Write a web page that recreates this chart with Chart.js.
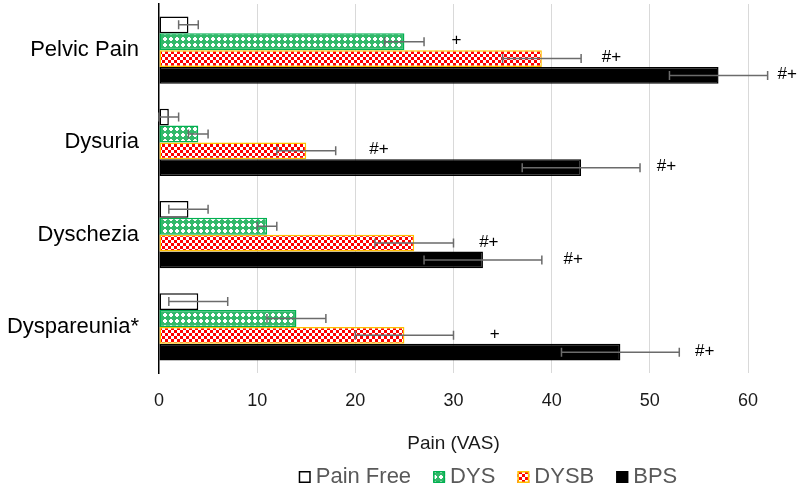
<!DOCTYPE html>
<html>
<head>
<meta charset="utf-8">
<script src="https://cdn.jsdelivr.net/npm/chart.js@4/dist/chart.umd.min.js"></script>
<style>
  html, body { margin: 0; padding: 0; background: #ffffff; }
  #wrap { width: 800px; height: 487px; }
</style>
</head>
<body>
<div id="wrap"><canvas id="c" width="800" height="487"></canvas></div>
<script>
// ---- data ----
const categories = ['Pelvic Pain', 'Dysuria', 'Dyschezia', 'Dyspareunia*'];
const seriesNames = ['Pain Free', 'DYS', 'DYSB', 'BPS'];

const painFree    = [3, 1, 3, 4];
const painFreeErr = [1, 1, 2, 3];
const dys         = [25, 4, 11, 14];
const dysErr      = [2, 1, 1, 3];
const dysb        = [39, 15, 26, 25];
const dysbErr     = [4, 3, 4, 5];
const bps         = [57, 43, 33, 47];
const bpsErr      = [5, 6, 6, 6];

const xTickValues = [0, 10, 20, 30, 40, 50, 60];
const axisTitle = 'Pain (VAS)';

// significance marks and where they sit (value-axis units)
const painFreeMarks = ['', '', '', ''];
const painFreeMarkX = [null, null, null, null];
const dysMarks  = ['+', '', '', ''];
const dysMarkX  = [30.3, null, null, null];
const dysbMarks = ['#+', '#+', '#+', '+'];
const dysbMarkX = [46.1, 22.4, 33.6, 34.2];
const bpsMarks  = ['#+', '#+', '#+', '#+'];
const bpsMarkX  = [64, 51.7, 42.2, 55.6];

// ---- patterns ----
function makeTile(size, draw) {
  const c = document.createElement('canvas');
  c.width = size; c.height = size;
  const g = c.getContext('2d');
  draw(g);
  return document.getElementById('c').getContext('2d').createPattern(c, 'repeat');
}
const greenPattern = makeTile(6, g => {
  g.fillStyle = '#33b96a';
  g.fillRect(0, 0, 6, 6);
  g.fillStyle = '#ffffff';
  // white diamond dot on a green lattice
  g.fillRect(2, 1, 2, 4);
  g.fillRect(1, 2, 4, 2);
});
const redPattern = makeTile(6, g => {
  g.fillStyle = '#ffffff';
  g.fillRect(0, 0, 6, 6);
  g.fillStyle = '#ff0000';
  g.fillRect(0, 0, 3, 3);
  g.fillRect(3, 3, 3, 3);
});

const errs  = [painFreeErr, dysErr, dysbErr, bpsErr];
const marks = [painFreeMarks, dysMarks, dysbMarks, bpsMarks];
const markX = [painFreeMarkX, dysMarkX, dysbMarkX, bpsMarkX];

const errorBarPlugin = {
  id: 'errorBars',
  afterDatasetsDraw(chart) {
    const ctx = chart.ctx;
    const xs = chart.scales.x;
    ctx.save();
    chart.data.datasets.forEach((ds, di) => {
      const meta = chart.getDatasetMeta(di);
      meta.data.forEach((bar, i) => {
        const v = ds.data[i];
        const e = errs[di][i];
        const y = bar.y;
        const x1 = xs.getPixelForValue(v - e);
        const x2 = xs.getPixelForValue(v + e);
        ctx.strokeStyle = '#6b6b6b';
        ctx.lineWidth = 1.5;
        ctx.beginPath();
        ctx.moveTo(x1, y); ctx.lineTo(x2, y);
        ctx.moveTo(x1, y - 4.5); ctx.lineTo(x1, y + 4.5);
        ctx.moveTo(x2, y - 4.5); ctx.lineTo(x2, y + 4.5);
        ctx.stroke();
        const m = marks[di][i];
        if (m) {
          ctx.fillStyle = '#000000';
          ctx.font = '17px "Liberation Sans", Arial, sans-serif';
          ctx.textAlign = 'center';
          ctx.textBaseline = 'middle';
          ctx.fillText(m, xs.getPixelForValue(markX[di][i]), y - 1);
        }
      });
    });
    ctx.restore();
  }
};

const legendPlugin = {
  id: 'bottomLegend',
  afterDraw(chart) {
    const ctx = chart.ctx;
    ctx.save();
    ctx.font = '22px "Liberation Sans", Arial, sans-serif';
    const box = 12, gap = 5, spacing = 22;
    const items = chart.data.datasets.map(ds => ({
      text: ds.label, fill: ds.backgroundColor, stroke: ds.borderColor,
      w: box + gap + ctx.measureText(ds.label).width
    }));
    const total = items.reduce((s, it) => s + it.w, 0) + spacing * (items.length - 1);
    let x = 488 - total / 2;
    const yc = 477;
    items.forEach(it => {
      ctx.fillStyle = it.fill;
      ctx.fillRect(x, yc - box / 2, box, box);
      ctx.strokeStyle = it.stroke;
      ctx.lineWidth = 1.5;
      ctx.strokeRect(x + 0.75, yc - box / 2 + 0.75, box - 1.5, box - 1.5);
      ctx.fillStyle = '#595959';
      ctx.textAlign = 'left';
      ctx.textBaseline = 'middle';
      ctx.fillText(it.text, x + box + gap, yc);
      x += it.w + spacing;
    });
    ctx.restore();
  }
};

const values = [painFree, dys, dysb, bps];
const fills = ['#ffffff', greenPattern, redPattern, '#000000'];
const borders = ['#000000', '#00b050', '#ffc000', '#000000'];

new Chart(document.getElementById('c'), {
  type: 'bar',
  data: {
    labels: categories,
    datasets: seriesNames.map((name, k) => ({
      label: name,
      data: values[k],
      backgroundColor: fills[k],
      borderColor: borders[k],
      borderWidth: 1.5,
      borderSkipped: false,
      categoryPercentage: 0.73,
      barPercentage: 1.0
    }))
  },
  options: {
    indexAxis: 'y',
    responsive: false,
    devicePixelRatio: 1,
    animation: false,
    layout: { padding: { left: 0, right: 52, top: 4, bottom: 32 } },
    plugins: {
      legend: { display: false },
      tooltip: { enabled: false }
    },
    scales: {
      x: {
        type: 'linear',
        min: 0,
        max: 60,
        afterBuildTicks: s => { s.ticks = xTickValues.map(v => ({ value: v })); },
        afterFit: s => { s.height = 82; s.paddingLeft = 0; s.paddingRight = 0; },
        ticks: {
          stepSize: 10,
          padding: 17,
          color: '#1a1a1a',
          font: { family: '"Liberation Sans", Arial, sans-serif', size: 18 }
        },
        grid: {
          drawTicks: false,
          color: c => (c.tick && c.tick.value === 0) ? 'rgba(0,0,0,0)' : '#d9d9d9',
          lineWidth: 1
        },
        border: { display: false },
        title: {
          display: true,
          text: axisTitle,
          color: '#1a1a1a',
          font: { family: '"Liberation Sans", Arial, sans-serif', size: 19 },
          padding: { top: 0, bottom: 0 }
        }
      },
      y: {
        type: 'category',
        afterFit: s => { s.width = 159; s.paddingTop = 0; s.paddingBottom = 0; },
        ticks: {
          padding: 20,
          color: '#000000',
          font: { family: '"Liberation Sans", Arial, sans-serif', size: 22 }
        },
        grid: { display: false, drawTicks: false },
        border: { display: true, color: '#000000', width: 1.5 }
      }
    }
  },
  plugins: [errorBarPlugin, legendPlugin]
});
</script>
</body>
</html>
